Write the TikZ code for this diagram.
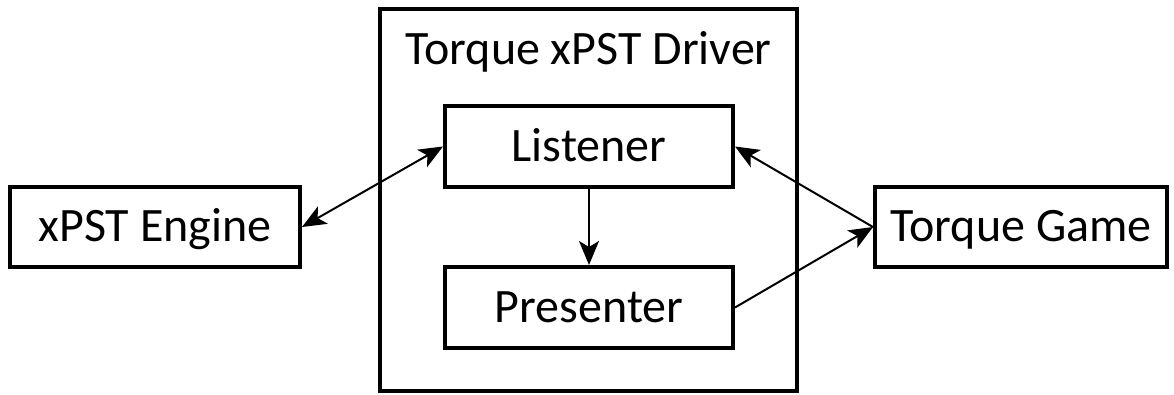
\documentclass[tikz,border=0pt]{standalone}
\usepackage{fontspec}
\setmainfont{Carlito}
\usetikzlibrary{arrows.meta}
\begin{document}
\begin{tikzpicture}[x=1pt,y=-1pt,
  lbl/.style={font=\fontsize{48}{56}\selectfont},
  box/.style={draw=black, line width=4pt, rectangle, inner sep=0pt, lbl, text height=36pt, text depth=6pt},
  conn/.style={line width=2pt, -{Stealth[length=24pt,width=20pt,inset=6pt]}},
  biconn/.style={line width=2pt, {Stealth[length=24pt,width=20pt,inset=6pt]}-{Stealth[length=24pt,width=20pt,inset=6pt]}}]
\useasboundingbox (0,0) rectangle (1174,395);
\node[box, minimum width=290pt, minimum height=80pt] (eng) at (155,227) {xPST Engine};
\node[box, minimum width=417pt, minimum height=382pt] (drv) at (588.5,200) {};
\node[lbl, anchor=base, inner sep=0pt] (title) at (588.5,65) {Torque xPST Driver};
\node[box, minimum width=288pt, minimum height=81pt] (lis) at (589,146.5) {Listener};
\node[box, minimum width=288pt, minimum height=81pt] (pres) at (589,307.5) {Presenter};
\node[box, minimum width=292pt, minimum height=80pt] (game) at (1021,227) {Torque Game};
\draw[biconn] (eng.east) -- (lis.west);
\draw[conn] (lis.south) -- (pres.north);
\draw[conn] (game.west) -- (lis.east);
\draw[conn] (pres.east) -- (game.west);
\end{tikzpicture}
\end{document}
